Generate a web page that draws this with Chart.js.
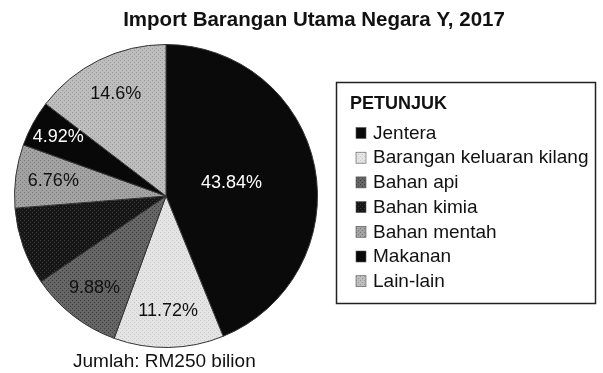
<!DOCTYPE html>
<html>
<head>
<meta charset="utf-8">
<script src="https://cdn.jsdelivr.net/npm/chart.js@4/dist/chart.umd.min.js"></script>
<style>
  html, body { margin: 0; padding: 0; background: #fff; }
  #wrap { width: 603px; height: 373px; position: relative; }
</style>
</head>
<body>
<div id="wrap"><canvas id="myChart" width="603" height="373"></canvas></div>
<script>
const categories = [
  "Jentera",
  "Barangan keluaran kilang",
  "Bahan api",
  "Bahan kimia",
  "Bahan mentah",
  "Makanan",
  "Lain-lain",
];
const shares = [43.84, 11.72, 9.88, 8.28, 6.76, 4.92, 14.6];
// Bahan kimia has no printed percentage
const showValue = [true, true, true, false, true, true, true];

const titleText = "Import Barangan Utama Negara Y, 2017";
const legendTitle = "PETUNJUK";
const footText = "Jumlah: RM250 bilion";

const FONT = "'Liberation Sans', Arial, sans-serif";

// halftone-ish fills: base tone plus a dot grid
function makePattern(base, dot) {
  const c = document.createElement("canvas");
  c.width = 4;
  c.height = 4;
  const g = c.getContext("2d");
  g.fillStyle = base;
  g.fillRect(0, 0, 4, 4);
  if (dot) {
    g.fillStyle = dot;
    g.fillRect(0, 0, 1, 1);
    g.fillRect(2, 2, 1, 1);
  }
  return g.createPattern(c, "repeat");
}

const fills = [
  makePattern("#0a0a0a", null),
  makePattern("#e4e4e4", "#c8c8c8"),
  makePattern("#666666", "#3c3c3c"),
  makePattern("#161616", "#3a3a3a"),
  makePattern("#a2a2a2", "#7c7c7c"),
  makePattern("#080808", null),
  makePattern("#bdbdbd", "#9a9a9a"),
];
const labelColors = ["#fff", "#111", "#111", "#fff", "#111", "#fff", "#111"];
// how far out from the centre each percentage sits (fraction of radius)
const labelRadius = [0.44, 0.76, 0.77, 0.7, 0.75, 0.81, 0.75];

const sliceLabels = {
  id: "sliceLabels",
  afterDatasetsDraw(chart) {
    const ctx = chart.ctx;
    const meta = chart.getDatasetMeta(0);
    ctx.save();
    ctx.font = "18px " + FONT;
    ctx.textAlign = "center";
    ctx.textBaseline = "middle";
    meta.data.forEach((arc, i) => {
      if (!showValue[i]) return;
      const p = arc.getProps(["x", "y", "startAngle", "endAngle", "outerRadius"]);
      const mid = (p.startAngle + p.endAngle) / 2;
      const r = p.outerRadius * labelRadius[i];
      ctx.fillStyle = labelColors[i];
      ctx.fillText(shares[i] + "%", p.x + Math.cos(mid) * r, p.y + Math.sin(mid) * r);
    });
    ctx.restore();
  },
};

const frameText = {
  id: "frameText",
  afterDraw(chart) {
    const ctx = chart.ctx;
    const ds = chart.data.datasets[0];
    ctx.save();
    ctx.fillStyle = "#111";
    ctx.textBaseline = "middle";

    // title
    ctx.font = "bold 20.5px " + FONT;
    ctx.textAlign = "center";
    ctx.fillText(titleText, 314, 20);

    // footnote
    ctx.font = "19px " + FONT;
    ctx.textAlign = "left";
    ctx.fillText(footText, 73, 362);

    // legend box
    ctx.strokeStyle = "#222";
    ctx.lineWidth = 1.5;
    ctx.strokeRect(336.5, 82.5, 259, 221);
    ctx.font = "bold 18px " + FONT;
    ctx.fillText(legendTitle, 350, 104);
    ctx.font = "19px " + FONT;
    chart.data.labels.forEach((lab, i) => {
      const y = 133 + i * 24.7;
      ctx.fillStyle = ds.backgroundColor[i];
      ctx.fillRect(356, y - 5.5, 10, 11);
      ctx.strokeStyle = "#555";
      ctx.lineWidth = 0.6;
      ctx.strokeRect(356, y - 5.5, 10, 11);
      ctx.fillStyle = "#111";
      ctx.fillText(lab, 373, y + 0.5);
    });
    ctx.restore();
  },
};

const myChart = new Chart(document.getElementById("myChart"), {
  type: "pie",
  data: {
    labels: categories,
    datasets: [
      {
        data: shares,
        backgroundColor: fills,
        borderColor: "#333",
        borderWidth: 1,
      },
    ],
  },
  options: {
    responsive: false,
    animation: false,
    events: [],
    layout: {
      padding: { left: 14, right: 285, top: 44, bottom: 25 },
    },
    plugins: {
      legend: { display: false },
      title: { display: false },
      tooltip: { enabled: false },
    },
  },
  plugins: [sliceLabels, frameText],
});
</script>
</body>
</html>
